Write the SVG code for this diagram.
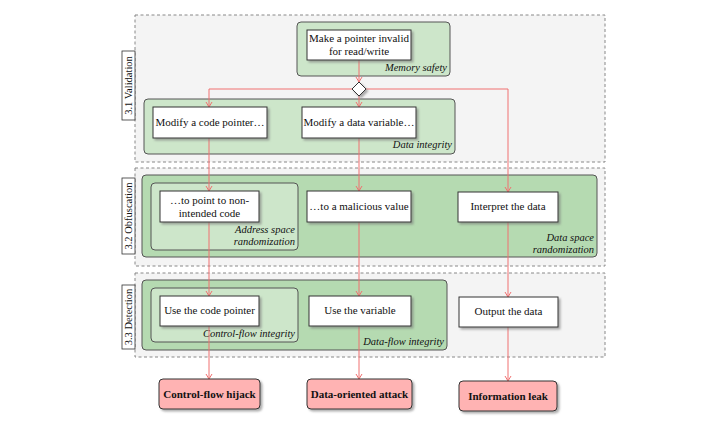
<svg xmlns="http://www.w3.org/2000/svg" width="720" height="425" viewBox="0 0 720 425" font-family="'Liberation Serif', 'Times New Roman', serif">
<style>
text{font-family:"Liberation Serif","Times New Roman",serif;font-size:11px;fill:#111}
.phase{fill:#f4f4f4;stroke:#888;stroke-width:1;stroke-dasharray:3,2.5}
.plab{fill:#fff;stroke:#333;stroke-width:0.8}
.rot{font-size:10.5px;text-anchor:middle}
.g1{fill:#cde6ca;stroke:#555;stroke-width:1}
.g2{fill:#b5dab1;stroke:#555;stroke-width:1}
.node{fill:#fff;stroke:#333;stroke-width:1;filter:url(#sh)}
.out{fill:#ffb3b3;stroke:#333;stroke-width:1;filter:url(#sh)}
.lab{font-style:italic;font-size:10.5px;text-anchor:end}
.c{text-anchor:middle}
.b{font-weight:bold}
.e{fill:none;stroke:#f07070;stroke-width:1}
</style>
<defs>
<filter id="sh" x="-20%" y="-20%" width="150%" height="160%">
<feDropShadow dx="2" dy="2" stdDeviation="0.8" flood-color="#777" flood-opacity="0.6"/>
</filter>
<marker id="ar" markerWidth="8" markerHeight="8" refX="6" refY="4" orient="auto" markerUnits="userSpaceOnUse">
<path d="M1,1 L6,4 L1,7" fill="none" stroke="#f07070" stroke-width="1"/>
</marker>
</defs>

<g id="phase-validation">
<rect class="phase" x="135" y="15" width="470" height="147"/>
<rect class="plab" x="122" y="51" width="13" height="69"/>
<text class="rot" transform="translate(132.3,85.5) rotate(-90)">3.1 Validation</text>
</g>
<g id="phase-obfuscation">
<rect class="phase" x="135" y="168" width="470" height="98"/>
<rect class="plab" x="122" y="178" width="13" height="76"/>
<text class="rot" transform="translate(132.3,216) rotate(-90)">3.2 Obfuscation</text>
</g>
<g id="phase-detection">
<rect class="phase" x="135" y="273" width="470" height="84"/>
<rect class="plab" x="122" y="285" width="13" height="64"/>
<text class="rot" transform="translate(132.3,317) rotate(-90)">3.3 Detection</text>
</g>

<g id="memory-safety">
<rect class="g1" x="297" y="22" width="153" height="54" rx="4"/>
<text class="lab" x="447" y="71">Memory safety</text>
</g>
<g id="data-integrity">
<rect class="g1" x="144" y="99" width="311" height="55" rx="4"/>
<text class="lab" x="452" y="148">Data integrity</text>
</g>
<g id="data-space-randomization">
<rect class="g2" x="142" y="175" width="455" height="82" rx="4"/>
<text class="lab" x="594" y="241">Data space</text>
<text class="lab" x="594" y="253">randomization</text>
</g>
<g id="address-space-randomization">
<rect class="g1" x="151" y="183" width="147" height="67" rx="4"/>
<text class="lab" x="295" y="233">Address space</text>
<text class="lab" x="295" y="245">randomization</text>
</g>
<g id="data-flow-integrity">
<rect class="g2" x="142" y="280" width="305" height="70" rx="4"/>
<text class="lab" x="444" y="345">Data-flow integrity</text>
</g>
<g id="control-flow-integrity">
<rect class="g1" x="151" y="288" width="147" height="54" rx="4"/>
<text class="lab" x="295" y="337">Control-flow integrity</text>
</g>

<g id="connectors">
<line class="e" x1="359" y1="60" x2="359" y2="82" marker-end="url(#ar)"/>
<line class="e" x1="359" y1="96" x2="359" y2="107" marker-end="url(#ar)"/>
<polyline class="e" points="352,89 209,89 209,107" marker-end="url(#ar)"/>
<polyline class="e" points="366,89 508,89 508,192" marker-end="url(#ar)"/>
<line class="e" x1="209" y1="138" x2="209" y2="191" marker-end="url(#ar)"/>
<line class="e" x1="209" y1="222" x2="209" y2="296" marker-end="url(#ar)"/>
<line class="e" x1="209" y1="326" x2="209" y2="379" marker-end="url(#ar)"/>
<line class="e" x1="359" y1="138" x2="359" y2="191" marker-end="url(#ar)"/>
<line class="e" x1="359" y1="222" x2="359" y2="296" marker-end="url(#ar)"/>
<line class="e" x1="359" y1="326" x2="359" y2="379" marker-end="url(#ar)"/>
<line class="e" x1="508" y1="222" x2="508" y2="297" marker-end="url(#ar)"/>
<line class="e" x1="508" y1="327" x2="508" y2="381" marker-end="url(#ar)"/>
</g>

<g id="diamond">
<polygon points="359,82 366,89 359,96 352,89" fill="#fff" stroke="#333" stroke-width="1" filter="url(#sh)"/>
</g>

<g id="n-invalid">
<rect class="node" x="307" y="30" width="104" height="30"/>
<text class="c" x="359" y="42">Make a pointer invalid</text>
<text class="c" x="359" y="55">for read/write</text>
</g>
<g id="n-code-pointer">
<rect class="node" x="153" y="107" width="114" height="31"/>
<text class="c" x="210" y="126">Modify a code pointer…</text>
</g>
<g id="n-data-variable">
<rect class="node" x="302" y="107" width="114" height="31"/>
<text class="c" x="359" y="126">Modify a data variable…</text>
</g>
<g id="n-non-intended">
<rect class="node" x="160" y="191" width="99" height="31"/>
<text class="c" x="209.5" y="204">…to point to non-</text>
<text class="c" x="209.5" y="217">intended code</text>
</g>
<g id="n-malicious">
<rect class="node" x="307" y="191" width="104" height="31"/>
<text class="c" x="359" y="210">…to a malicious value</text>
</g>
<g id="n-interpret">
<rect class="node" x="458" y="192" width="100" height="30"/>
<text class="c" x="508" y="210">Interpret the data</text>
</g>
<g id="n-use-code-pointer">
<rect class="node" x="160" y="296" width="99" height="30"/>
<text class="c" x="209.5" y="314">Use the code pointer</text>
</g>
<g id="n-use-variable">
<rect class="node" x="309" y="296" width="102" height="30"/>
<text class="c" x="360" y="314">Use the variable</text>
</g>
<g id="n-output">
<rect class="node" x="459" y="297" width="99" height="30"/>
<text class="c" x="508.5" y="315">Output the data</text>
</g>
<g id="o-cf-hijack">
<rect class="out" x="159" y="379" width="101" height="30" rx="4"/>
<text class="c b" x="209.5" y="398">Control-flow hijack</text>
</g>
<g id="o-data-oriented">
<rect class="out" x="307" y="379" width="105" height="30" rx="4"/>
<text class="c b" x="359.5" y="398">Data-oriented attack</text>
</g>
<g id="o-info-leak">
<rect class="out" x="459" y="381" width="98" height="30" rx="4"/>
<text class="c b" x="508" y="400">Information leak</text>
</g>
</svg>
